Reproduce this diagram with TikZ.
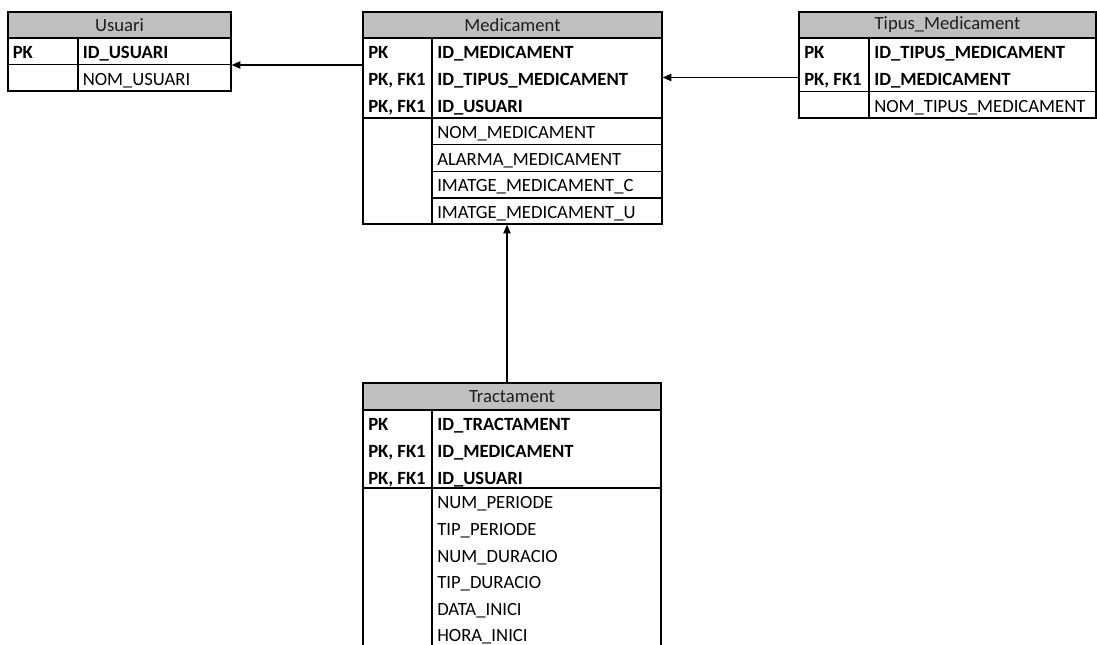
\documentclass[tikz,border=0pt]{standalone}
\usepackage{fontspec}
\setmainfont{Carlito}
\usetikzlibrary{arrows.meta,fit}
\definecolor{hdrgray}{RGB}{191,191,191}
\definecolor{inkgray}{RGB}{30,30,30}
\begin{document}
\begin{tikzpicture}[x=0.75pt,y=-0.75pt,
  frame/.style={draw=black,line width=1pt},
  hdr/.style={frame,fill=hdrgray,inner sep=0pt},
  hdrtxt/.style={inner sep=0pt,font=\fontsize{14}{16}\selectfont,text=inkgray},
  body/.style={frame,inner sep=0pt},
  keytxt/.style={anchor=base west,inner sep=0pt,font=\fontsize{14}{16}\selectfont\bfseries},
  fldtxt/.style={anchor=base west,inner sep=0pt,font=\fontsize{14}{16}\selectfont,text=black},
  fk/.style={line width=0.9pt,-{Triangle[length=6.5pt,width=5.5pt]}}]

\useasboundingbox (0,0) rectangle (1097,644);
\clip (0,0) rectangle (1097,644);

% ---- Usuari ----
\node[hdr,fit={(8,12)(231,38)}] (usuariH) {};
\node[hdrtxt] (usuariT) at (usuariH.center) {Usuari};
\node[body,fit={(8,38)(231,91)}] (usuari) {};
\draw[frame] (8,64.7) -- (231,64.7);
\draw[frame] (78,38) -- (78,91);
\node[keytxt] (u1k) at (12.5,58.7) {PK};
\node[keytxt] (u1f) at (82.5,58.7) {ID\_USUARI};
\node[fldtxt] (u2f) at (82.5,85.3) {NOM\_USUARI};

% ---- Medicament ----
\node[hdr,fit={(363,12)(662,38)}] (medicamentH) {};
\node[hdrtxt] (medicamentT) at (medicamentH.center) {Medicament};
\node[body,fit={(363,38)(662,224)}] (medicament) {};
\draw[frame] (363,118) -- (662,118);
\draw[frame] (432,38) -- (432,224);
\foreach \yy in {144.7,171.3,198} \draw[frame] (432,\yy) -- (662,\yy);
\node[keytxt] (m1k) at (368,58.7) {PK};
\node[keytxt] (m1f) at (437,58.7) {ID\_MEDICAMENT};
\node[keytxt] (m2k) at (368,85.3) {PK, FK1};
\node[keytxt] (m2f) at (437,85.3) {ID\_TIPUS\_MEDICAMENT};
\node[keytxt] (m3k) at (368,112) {PK, FK1};
\node[keytxt] (m3f) at (437,112) {ID\_USUARI};
\node[fldtxt] (m4f) at (437,138.3) {NOM\_MEDICAMENT};
\node[fldtxt] (m5f) at (437,165) {ALARMA\_MEDICAMENT};
\node[fldtxt] (m6f) at (437,191.6) {IMATGE\_MEDICAMENT\_C};
\node[fldtxt] (m7f) at (437,218.3) {IMATGE\_MEDICAMENT\_U};

% ---- Tipus_Medicament ----
\node[hdr,fit={(799,12)(1096,38)}] (tipusH) {};
\node[hdrtxt] (tipusT) at (tipusH.center) {Tipus\_Medicament};
\node[body,fit={(799,38)(1096,118)}] (tipus) {};
\draw[frame] (799,91.3) -- (1096,91.3);
\draw[frame] (869,38) -- (869,118);
\node[keytxt] (t1k) at (804,58.7) {PK};
\node[keytxt] (t1f) at (874,58.7) {ID\_TIPUS\_MEDICAMENT};
\node[keytxt] (t2k) at (804,85.3) {PK, FK1};
\node[keytxt] (t2f) at (874,85.3) {ID\_MEDICAMENT};
\node[fldtxt] (t3f) at (874,112) {NOM\_TIPUS\_MEDICAMENT};

% ---- Tractament ----
\node[hdr,fit={(363,383)(661,410)}] (tractamentH) {};
\node[hdrtxt] (tractamentT) at (tractamentH.center) {Tractament};
\node[body,fit={(363,410)(661,720)}] (tractament) {};
\draw[frame] (363,488) -- (661,488);
\draw[frame] (432,410) -- (432,720);
\node[keytxt] (r1k) at (368,430.7) {PK};
\node[keytxt] (r1f) at (437,430.7) {ID\_TRACTAMENT};
\node[keytxt] (r2k) at (368,457.3) {PK, FK1};
\node[keytxt] (r2f) at (437,457.3) {ID\_MEDICAMENT};
\node[keytxt] (r3k) at (368,484) {PK, FK1};
\node[keytxt] (r3f) at (437,484) {ID\_USUARI};
\node[fldtxt] (r4f) at (437,508.7) {NUM\_PERIODE};
\node[fldtxt] (r5f) at (437,535.3) {TIP\_PERIODE};
\node[fldtxt] (r6f) at (437,562) {NUM\_DURACIO};
\node[fldtxt] (r7f) at (437,588.7) {TIP\_DURACIO};
\node[fldtxt] (r8f) at (437,615.3) {DATA\_INICI};
\node[fldtxt] (r9f) at (437,641) {HORA\_INICI};

% ---- relationships ----
\draw[fk] (medicament.west |- 0,65) -- (usuari.east |- 0,65);
\draw[fk] (tipus.west |- 0,77.5) -- (medicament.east |- 0,77.5);
\draw[fk] (tractamentH.north -| 507,0) -- (medicament.south -| 507,0);
\end{tikzpicture}
\end{document}
